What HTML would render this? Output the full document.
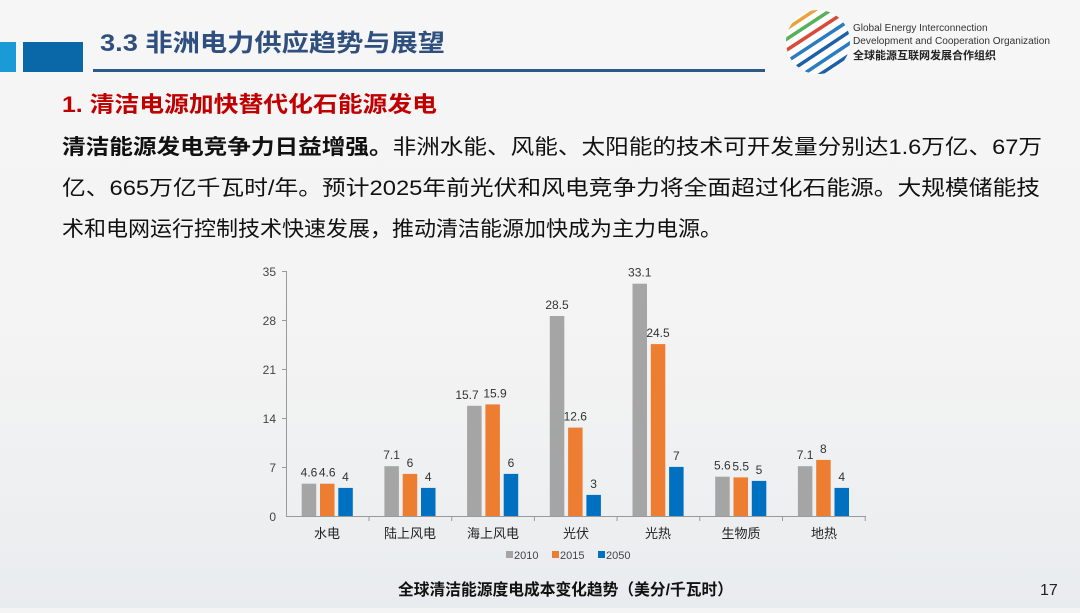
<!DOCTYPE html>
<html><head><meta charset="utf-8"><style>
body{margin:0;width:1080px;height:608px;overflow:hidden;background:#f4f4f4}
text{font-family:"Liberation Sans","Noto Sans CJK SC",sans-serif}
</style></head><body>
<svg width="1080" height="608" viewBox="0 0 1080 608" xmlns="http://www.w3.org/2000/svg">
<defs>
<linearGradient id="bg" x1="0" y1="0" x2="0" y2="1"><stop offset="0" stop-color="#f6f6f6"/><stop offset="0.6" stop-color="#f3f3f3"/><stop offset="1" stop-color="#e9ecef"/></linearGradient>
<clipPath id="lc"><circle cx="818" cy="42" r="32"/></clipPath>
</defs>
<rect width="1080" height="608" fill="url(#bg)"/>
<rect x="0" y="42" width="16" height="30" fill="#1a9ad6"/>
<rect x="23" y="42" width="60" height="30" fill="#0a68a8"/>
<text x="100" y="51" font-size="24" font-weight="bold" fill="#2f4f7f" textLength="345" lengthAdjust="spacingAndGlyphs">3.3 非洲电力供应趋势与展望</text>
<rect x="93" y="69" width="672" height="3" fill="#2d5a8a"/>
<g clip-path="url(#lc)">
<circle cx="818" cy="42" r="32" fill="#fff"/>
<g stroke-width="3.5" fill="none">
<line x1="770" y1="40" x2="830" y2="0" stroke="#e8a33a"/>
<line x1="770" y1="50" x2="840" y2="4" stroke="#57b05a"/>
<line x1="773" y1="59" x2="848" y2="10" stroke="#d84a3a"/>
<line x1="777" y1="68" x2="853" y2="18" stroke="#2c7cc4"/>
<line x1="783" y1="76" x2="858" y2="26" stroke="#1d5fa8"/>
<line x1="790" y1="83" x2="862" y2="35" stroke="#2c7cc4"/>
<line x1="798" y1="89" x2="866" y2="44" stroke="#1d5fa8"/>
<line x1="806" y1="95" x2="870" y2="53" stroke="#2c7cc4"/>
</g>
</g>
<text x="853" y="31" font-size="10" fill="#333">Global Energy Interconnection</text>
<text x="853" y="44" font-size="10" fill="#333" textLength="197" lengthAdjust="spacingAndGlyphs">Development and Cooperation Organization</text>
<text x="853" y="59" font-size="11" font-weight="bold" fill="#222">全球能源互联网发展合作组织</text>
<text x="62" y="112" font-size="22" font-weight="bold" fill="#c00000" textLength="375" lengthAdjust="spacingAndGlyphs">1. 清洁电源加快替代化石能源发电</text>
<text x="62" y="154" font-size="21" fill="#111" textLength="980" lengthAdjust="spacingAndGlyphs"><tspan font-weight="bold">清洁能源发电竞争力日益增强。</tspan>非洲水能、风能、太阳能的技术可开发量分别达1.6万亿、67万</text>
<text x="62" y="195" font-size="21" fill="#111" textLength="978" lengthAdjust="spacingAndGlyphs">亿、665万亿千瓦时/年。预计2025年前光伏和风电竞争力将全面超过化石能源。大规模储能技</text>
<text x="62" y="236" font-size="21" fill="#111" textLength="660" lengthAdjust="spacingAndGlyphs">术和电网运行控制技术快速发展，推动清洁能源加快成为主力电源。</text>
<g stroke="#999" stroke-width="1">
<line x1="286.5" y1="271" x2="286.5" y2="517"/>
<line x1="286" y1="516.5" x2="866" y2="516.5"/>
<line x1="282" y1="271.5" x2="286" y2="271.5"/><line x1="282" y1="320.5" x2="286" y2="320.5"/>
<line x1="282" y1="369.5" x2="286" y2="369.5"/><line x1="282" y1="418.5" x2="286" y2="418.5"/>
<line x1="282" y1="467.5" x2="286" y2="467.5"/>
<line x1="369" y1="516" x2="369" y2="521"/><line x1="451.7" y1="516" x2="451.7" y2="521"/>
<line x1="534.4" y1="516" x2="534.4" y2="521"/><line x1="617.1" y1="516" x2="617.1" y2="521"/>
<line x1="699.8" y1="516" x2="699.8" y2="521"/><line x1="782.5" y1="516" x2="782.5" y2="521"/>
<line x1="865.2" y1="516" x2="865.2" y2="521"/>
</g>
<g font-size="12" fill="#444" text-anchor="end">
<text x="276" y="276">35</text><text x="276" y="325">28</text><text x="276" y="374">21</text>
<text x="276" y="423">14</text><text x="276" y="472">7</text><text x="276" y="521">0</text>
</g>
<g>
<rect x="301.7" y="483.7" width="14.5" height="32.3" fill="#a5a5a5"/>
<rect x="320.0" y="483.7" width="14.5" height="32.3" fill="#ed7d31"/>
<rect x="338.3" y="487.9" width="14.5" height="28.1" fill="#0070c0"/>
<rect x="384.4" y="466.2" width="14.5" height="49.8" fill="#a5a5a5"/>
<rect x="402.7" y="473.9" width="14.5" height="42.1" fill="#ed7d31"/>
<rect x="421.0" y="487.9" width="14.5" height="28.1" fill="#0070c0"/>
<rect x="467.1" y="405.8" width="14.5" height="110.2" fill="#a5a5a5"/>
<rect x="485.4" y="404.4" width="14.5" height="111.6" fill="#ed7d31"/>
<rect x="503.7" y="473.9" width="14.5" height="42.1" fill="#0070c0"/>
<rect x="549.8" y="316.0" width="14.5" height="200.0" fill="#a5a5a5"/>
<rect x="568.1" y="427.6" width="14.5" height="88.4" fill="#ed7d31"/>
<rect x="586.4" y="494.9" width="14.5" height="21.1" fill="#0070c0"/>
<rect x="632.5" y="283.7" width="14.5" height="232.3" fill="#a5a5a5"/>
<rect x="650.8" y="344.1" width="14.5" height="171.9" fill="#ed7d31"/>
<rect x="669.1" y="466.9" width="14.5" height="49.1" fill="#0070c0"/>
<rect x="715.2" y="476.7" width="14.5" height="39.3" fill="#a5a5a5"/>
<rect x="733.5" y="477.4" width="14.5" height="38.6" fill="#ed7d31"/>
<rect x="751.8" y="480.9" width="14.5" height="35.1" fill="#0070c0"/>
<rect x="797.9" y="466.2" width="14.5" height="49.8" fill="#a5a5a5"/>
<rect x="816.2" y="459.9" width="14.5" height="56.1" fill="#ed7d31"/>
<rect x="834.5" y="487.9" width="14.5" height="28.1" fill="#0070c0"/>
</g>
<g font-size="12" fill="#333" text-anchor="middle">
<text x="309" y="476.7">4.6</text><text x="327.2" y="476.7">4.6</text><text x="345.5" y="480.9">4</text>
<text x="391.6" y="459.2">7.1</text><text x="410" y="466.9">6</text><text x="428.2" y="480.9">4</text>
<text x="467" y="398.8">15.7</text><text x="495" y="397.4">15.9</text><text x="511" y="466.9">6</text>
<text x="557" y="309">28.5</text><text x="575.3" y="420.6">12.6</text><text x="593.6" y="487.9">3</text>
<text x="639.7" y="276.7">33.1</text><text x="658" y="337.1">24.5</text><text x="676.3" y="459.9">7</text>
<text x="722.4" y="469.7">5.6</text><text x="740.7" y="470.4">5.5</text><text x="759" y="473.9">5</text>
<text x="805.1" y="459.2">7.1</text><text x="823.4" y="452.9">8</text><text x="841.7" y="480.9">4</text>
</g>
<g font-size="13" fill="#222" text-anchor="middle">
<text x="327" y="538">水电</text><text x="410" y="538">陆上风电</text><text x="493" y="538">海上风电</text>
<text x="576" y="538">光伏</text><text x="658" y="538">光热</text><text x="741" y="538">生物质</text><text x="824" y="538">地热</text>
</g>
<g font-size="11" fill="#444">
<rect x="506" y="551" width="7" height="7" fill="#a5a5a5"/><text x="514" y="559">2010</text>
<rect x="552" y="551" width="7" height="7" fill="#ed7d31"/><text x="560" y="559">2015</text>
<rect x="598" y="551" width="7" height="7" fill="#0070c0"/><text x="606" y="559">2050</text>
</g>
<text x="398" y="595" font-size="16" font-weight="bold" fill="#111" textLength="335" lengthAdjust="spacingAndGlyphs">全球清洁能源度电成本变化趋势（美分/千瓦时）</text>
<text x="1040" y="595" font-size="16" fill="#222">17</text>
</svg>
</body></html>
